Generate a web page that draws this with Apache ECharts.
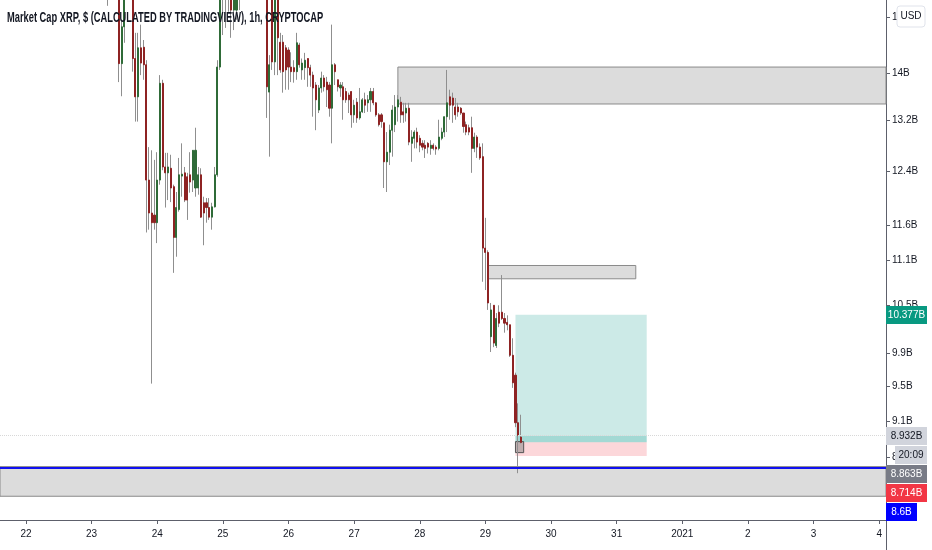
<!DOCTYPE html>
<html><head><meta charset="utf-8">
<script src="https://cdn.jsdelivr.net/npm/echarts@6/dist/echarts.min.js"></script>
<style>html,body{margin:0;padding:0;background:#fff}#main{width:932px;height:550px}</style>
</head><body><div id="main"></div>
<script>
// ---------- data ----------
const titleText = 'Market Cap XRP, $ (CALCULATED BY TRADINGVIEW), 1h, CRYPTOCAP';
const firstHourUTC = [2020, 11, 21, 15];   // first hourly slot on the axis
const hourCount = 324;
const firstCandle = '2020-12-23 06:00';
// hourly candles, values in billions USD: [open, close, low, high]
const candles = [
[15.70,15.51,15.21,16.10],[15.51,15.62,15.40,15.85],[15.62,15.80,15.45,16.00],[15.80,15.65,15.42,16.05],
[15.65,14.16,13.84,15.75],[14.16,14.82,13.60,14.95],[14.82,15.55,14.53,15.80],[15.55,15.70,15.38,16.00],
[15.70,15.60,15.38,15.90],[15.60,14.25,14.02,15.80],[14.25,13.59,13.18,14.71],[13.59,14.44,13.18,14.71],
[14.44,14.17,13.96,14.86],[14.45,14.14,13.88,14.58],[14.14,12.26,11.49,14.22],[12.26,11.77,11.53,12.77],
[11.77,11.63,9.53,12.72],[11.74,11.63,11.53,12.57],[11.63,12.26,11.34,12.69],[12.26,13.82,12.19,13.96],
[13.82,12.46,12.41,13.88],[12.46,12.37,11.85,12.68],[12.37,12.46,11.96,12.68],[12.44,12.14,11.93,12.65],
[12.16,11.42,10.93,12.19],[11.42,11.85,11.15,12.08],[11.82,12.34,11.79,12.60],[12.32,12.35,12.01,12.83],
[12.37,11.96,11.93,12.46],[12.31,11.96,11.67,12.37],[12.34,12.23,12.07,12.69],[12.26,12.72,12.08,12.72],
[12.14,12.72,12.01,13.08],[12.14,12.34,12.04,12.46],[12.34,11.71,11.70,12.44],[11.92,11.77,11.31,12.01],
[11.92,11.85,11.63,11.99],[11.85,11.71,11.67,11.99],[11.71,11.86,11.53,11.92],[11.86,12.34,11.85,12.46],
[12.34,14.10,12.31,14.22],[14.10,15.70,14.05,16.10],[15.40,15.75,14.67,16.00],[15.75,15.55,14.80,16.05],
[15.55,15.60,15.10,15.90],[15.60,15.13,14.62,15.85],[15.13,15.45,14.76,15.70],[15.13,15.60,14.95,15.90],
[15.60,15.75,15.13,16.00],[15.75,15.85,15.45,16.10],[15.85,16.00,15.60,16.30],[16.00,15.95,15.70,16.30],
[15.95,16.10,15.75,16.40],[16.10,16.00,15.75,16.40],[16.00,15.90,15.65,16.30],[15.90,15.80,15.55,16.20],
[15.80,15.70,15.45,16.10],[15.70,15.55,15.35,16.00],[15.55,13.76,13.24,15.80],[13.67,14.14,12.62,14.31],
[15.50,14.19,14.05,15.75],[14.19,15.45,13.96,15.70],[15.45,14.62,13.96,15.60],[14.54,14.05,14.00,14.71],
[14.54,14.02,13.66,14.67],[14.44,14.05,13.71,14.49],[14.40,14.10,13.71,14.45],[14.10,14.02,13.84,14.36],
[14.09,14.02,13.83,14.22],[14.02,14.53,13.88,14.71],[14.49,14.14,14.09,14.53],[14.05,14.17,13.88,14.25],
[14.09,14.22,13.88,14.35],[14.25,14.09,13.76,14.25],[14.09,13.96,13.76,14.14],[13.96,13.74,13.26,14.02],
[13.79,13.54,13.04,13.84],[13.37,13.74,13.32,13.79],[13.74,13.91,13.66,14.02],[13.91,13.76,13.68,13.96],
[13.84,13.71,13.42,13.93],[13.79,13.40,13.26,13.84],[13.40,14.14,12.83,14.86],[14.14,14.02,13.79,14.17],
[13.88,13.76,13.68,13.88],[13.74,13.79,13.59,13.84],[13.76,13.54,13.21,13.84],[13.68,13.54,13.49,13.74],
[13.62,13.54,13.32,13.66],[13.68,13.29,13.08,13.68],[13.29,13.45,13.16,13.54],[13.50,13.24,13.16,13.57],
[13.24,13.34,13.21,13.74],[13.34,13.54,13.32,13.57],[13.54,13.45,13.32,13.66],[13.49,13.54,13.34,13.62],
[13.54,13.68,13.34,13.74],[13.68,13.49,13.45,13.74],[13.49,13.29,13.26,13.50],[13.29,13.13,13.10,13.32],
[13.29,13.18,13.08,13.32],[13.16,12.54,12.14,13.16],[12.54,12.69,12.08,13.01],[12.69,13.04,12.49,13.13],
[13.04,13.37,12.62,13.45],[13.13,13.42,13.01,13.62],[13.42,13.54,13.18,13.62],[13.50,13.29,13.16,13.59],
[13.34,13.29,13.16,13.49],[13.32,13.40,13.18,13.49],[13.40,12.85,12.80,13.49],[12.83,12.93,12.54,13.04],
[12.91,13.01,12.75,13.04],[13.01,12.85,12.75,13.08],[12.91,12.80,12.69,12.96],[12.83,12.77,12.72,12.88],
[12.80,12.75,12.60,12.88],[12.83,12.77,12.67,12.85],[12.75,12.80,12.65,12.88],[12.80,12.75,12.72,12.83],
[12.77,12.74,12.65,12.80],[12.75,12.93,12.72,13.21],[12.91,13.01,12.88,13.08],[13.01,13.26,12.93,13.26],
[13.26,13.49,13.01,14.05],[13.59,13.45,13.21,13.71],[13.57,13.45,13.16,13.66],[13.42,13.29,13.21,13.57],
[13.42,13.34,13.26,13.49],[13.40,13.32,13.29,13.42],[13.32,13.10,13.00,13.32],[13.13,13.01,12.96,13.18],
[13.08,13.01,12.96,13.13],[13.08,12.75,12.37,13.26],[12.75,12.93,12.69,13.00],[12.93,12.77,12.60,12.96],
[12.77,12.60,12.57,12.83],[12.62,11.27,10.81,12.83],[11.27,11.21,10.70,11.70],[11.21,10.53,10.44,11.24],
[10.10,10.44,9.91,10.53],[10.50,10.02,9.97,10.50],[9.99,10.33,9.96,10.40],[10.41,10.27,10.22,10.50],
[10.41,10.33,10.31,10.90],[10.33,10.27,10.15,10.40],[10.28,10.25,10.18,10.37],[10.25,9.87,9.85,10.25],
[9.87,9.54,9.48,10.08],[9.63,9.08,9.03,9.66],[9.08,8.94,8.53,9.30],[8.92,8.86,8.85,9.17]
];
const priceTicks = [15, 14, 13.2, 12.4, 11.6, 11.1, 10.5, 9.9, 9.5, 9.1, 8.7];
const priceTickLabels = ['15B','14B','13.2B','12.4B','11.6B','11.1B','10.5B','9.9B','9.5B','9.1B','8.7B'];
const priceMin = 8.05, priceMax = 15.32;
// drawings (time, billions)
const supplyZone = { x0: '2020-12-27 16:00', top: 14.10, bottom: 13.47 };
const smallBox = { x0: '2020-12-29 01:00', x1: '2020-12-31 07:00', top: 11.03, bottom: 10.85 };
const position = { x0: '2020-12-29 11:00', x1: '2020-12-31 11:00', target: 10.377, entry: 8.932, last: 8.863, stop: 8.714 };
const markerBox = { x0: '2020-12-29 11:00', x1: '2020-12-29 14:00', top: 8.87, bottom: 8.75 };
const supportLevel = 8.6;
const demandZone = { top: 8.6, bottom: 8.29 };
const countdown = '20:09';

// ---------- build ----------
const pad = n => String(n).padStart(2, '0');
const categories = [];
const t0 = Date.UTC(firstHourUTC[0], firstHourUTC[1], firstHourUTC[2], firstHourUTC[3]);
for (let i = 0; i < hourCount; i++) {
  const d = new Date(t0 + i * 3600000);
  categories.push(d.getUTCFullYear() + '-' + pad(d.getUTCMonth() + 1) + '-' + pad(d.getUTCDate()) + ' ' + pad(d.getUTCHours()) + ':00');
}
const offset = categories.indexOf(firstCandle);
const L = Math.log;
const wickData = categories.map((c, i) => {
  const k = i - offset;
  if (k < 0 || k >= candles.length) return '-';
  return candles[k].map(L);
});
const bodyData = categories.map((c, i) => {
  const k = i - offset;
  if (k < 0 || k >= candles.length) return '-';
  const [o, cl] = candles[k];
  return [L(o), L(cl), L(Math.min(o, cl)), L(Math.max(o, cl))];
});
const isMidnight = (idx, val) => val.slice(11, 13) === '00';
const dayLabel = v => {
  if (v.slice(11, 13) !== '00') return '';
  if (v.slice(5, 10) === '01-01') return v.slice(0, 4);
  return String(parseInt(v.slice(8, 10), 10));
};
const FONT = 'Liberation Sans, Arial, sans-serif';
const area = (x0, x1, top, bottom, style) => {
  const a = { yAxis: L(top), itemStyle: style };
  if (x0 != null) a.xAxis = x0;
  const b = { yAxis: L(bottom) };
  if (x1 != null) b.xAxis = x1;
  return [a, b];
};

const chart = echarts.init(document.getElementById('main'), null, { renderer: 'canvas' });
chart.setOption({
  animation: false,
  backgroundColor: '#ffffff',
  grid: { left: 0, right: 46, top: 0, bottom: 30, containLabel: false },
  xAxis: {
    type: 'category', data: categories, boundaryGap: true,
    axisLine: { show: true, lineStyle: { color: '#5d606b', width: 1 } },
    axisTick: { show: true, alignWithLabel: true, interval: isMidnight, length: 4, lineStyle: { color: '#5d606b' } },
    axisLabel: { interval: isMidnight, formatter: dayLabel, color: '#131722', fontSize: 10, fontFamily: FONT, margin: 9 },
    splitLine: { show: false }
  },
  yAxis: {
    type: 'value', position: 'right', min: L(priceMin), max: L(priceMax), scale: true,
    axisLine: { show: true, lineStyle: { color: '#5d606b', width: 1 } },
    axisTick: { show: true, length: 4, customValues: priceTicks.map(L), lineStyle: { color: '#5d606b' } },
    axisLabel: {
      customValues: priceTicks.map(L), color: '#131722', fontSize: 10, fontFamily: FONT, margin: 6,
      formatter: v => {
        let best = 0;
        priceTicks.forEach((p, i) => { if (Math.abs(L(p) - v) < Math.abs(L(priceTicks[best]) - v)) best = i; });
        return priceTickLabels[best];
      }
    },
    splitLine: { show: false }
  },
  series: [
    {
      type: 'candlestick', name: 'wicks', data: wickData, barWidth: 1, clip: true, silent: true,
      itemStyle: { color: '#8f8f8f', color0: '#8f8f8f', borderColor: '#8f8f8f', borderColor0: '#8f8f8f', borderWidth: 1 },
      markArea: {
        silent: true,
        data: [
          area(null, null, demandZone.top, demandZone.bottom, { color: '#dcdcdc', borderColor: '#8a8a8a', borderWidth: 1 }),
          area(supplyZone.x0, null, supplyZone.top, supplyZone.bottom, { color: 'rgba(150,150,150,0.33)', borderColor: '#8a8a8a', borderWidth: 1 }),
          area(smallBox.x0, smallBox.x1, smallBox.top, smallBox.bottom, { color: 'rgba(150,150,150,0.33)', borderColor: '#8a8a8a', borderWidth: 1 }),
          area(position.x0, position.x1, position.target, position.entry, { color: 'rgba(0,150,136,0.2)' }),
          area(position.x0, position.x1, position.entry, position.last, { color: 'rgba(0,150,136,0.36)' }),
          area(position.x0, position.x1, position.last, position.stop, { color: 'rgba(242,54,69,0.2)' }),
          area(markerBox.x0, markerBox.x1, markerBox.top, markerBox.bottom, { color: 'rgba(140,140,140,0.55)', borderColor: '#555', borderWidth: 1 })
        ]
      },
      markLine: {
        silent: true, symbol: 'none', label: { show: false },
        data: [
          { yAxis: L(position.entry), lineStyle: { color: '#d8d8d8', type: 'dotted', width: 1 } },
          { yAxis: L(supportLevel), lineStyle: { color: '#1010f0', type: 'solid', width: 2 } }
        ]
      }
    },
    {
      type: 'candlestick', name: 'bodies', data: bodyData, barWidth: 1.6, clip: true, silent: true,
      itemStyle: { color: '#2f6b38', color0: '#8e2323', borderColor: '#2f6b38', borderColor0: '#8e2323', borderWidth: 1 }
    }
  ]
});

// ---------- overlays: title, currency button, price tags ----------
const yPx = p => chart.convertToPixel({ yAxisIndex: 0 }, L(p));
const AX = 886;
function tag(y, text, bg, fg, w, x0) {
  const x = x0 == null ? AX : x0;
  return [
    { type: 'rect', z: 100, shape: { x: x, y: Math.round(y) - 9, width: w, height: 18 }, style: { fill: bg } },
    { type: 'text', z: 101, x: x + w / 2, y: Math.round(y) + 0.5,
      style: { text: text, fill: fg, fontSize: 10, fontFamily: FONT, align: 'center', verticalAlign: 'middle', textAlign: 'center', textVerticalAlign: 'middle' } }
  ];
}
const yEntry = yPx(position.entry);
const fmtB = v => v.toFixed(3) + 'B';
const graphics = [
  { type: 'text', z: 100, x: 7, y: 18, scaleX: 0.665,
    style: { text: titleText, fill: '#131722', fontSize: 14, fontWeight: 'bold', fontFamily: FONT, verticalAlign: 'middle', textVerticalAlign: 'middle' } },
  { type: 'line', z: 100, shape: { x1: AX + 0.5, y1: 520, x2: AX + 0.5, y2: 550 }, style: { stroke: '#5d606b', lineWidth: 1 } },
  { type: 'rect', z: 100, shape: { x: 897, y: 6, width: 28, height: 21, r: 3 }, style: { fill: '#ffffff', stroke: '#e0e3eb', lineWidth: 1 } },
  { type: 'text', z: 101, x: 911, y: 16.5,
    style: { text: 'USD', fill: '#131722', fontSize: 10, fontFamily: FONT, align: 'center', verticalAlign: 'middle', textAlign: 'center', textVerticalAlign: 'middle' } }
]
.concat(tag(yPx(position.target), fmtB(position.target), '#089981', '#ffffff', 41))
.concat(tag(yEntry, fmtB(position.entry), '#d1d4dc', '#131722', 41))
.concat(tag(yEntry + 19, countdown, '#d1d4dc', '#131722', 32, 895))
.concat(tag(yEntry + 38, fmtB(position.last), '#787b86', '#ffffff', 41))
.concat(tag(yEntry + 57, fmtB(position.stop), '#f23645', '#ffffff', 41))
.concat(tag(yEntry + 76, supportLevel + 'B', '#0000ff', '#ffffff', 31));
chart.setOption({ graphic: graphics });
</script>
</body></html>
